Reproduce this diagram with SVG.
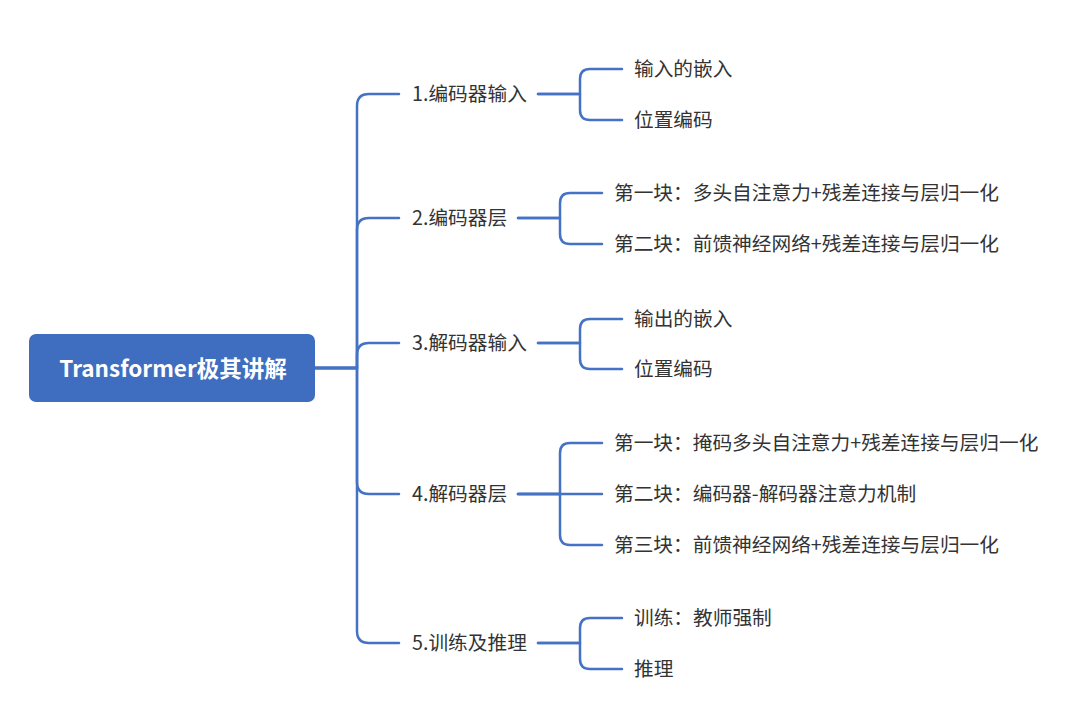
<svg xmlns="http://www.w3.org/2000/svg" width="1082" height="713" viewBox="0 0 1082 713">
<style>
.ln{fill:none;stroke:#4472C4;stroke-width:2.5;stroke-linecap:round;stroke-linejoin:round}
.t{font-family:"Noto Sans CJK SC","Noto Sans",sans-serif;font-size:19.7px;fill:#333333;dominant-baseline:central}
.root{font-family:"Noto Sans CJK SC","Noto Sans",sans-serif;font-size:22.5px;font-weight:bold;fill:#ffffff;dominant-baseline:central;text-anchor:middle}
</style>
<rect width="1082" height="713" fill="#ffffff"/>
<g id="connectors">
<path class="ln" d="M315,368 H357 V106 Q357,94 369,94 H399"/>
<path class="ln" d="M315,368 H357 V230 Q357,218 369,218 H399"/>
<path class="ln" d="M315,368 H357 V355 Q357,343 369,343 H399"/>
<path class="ln" d="M315,368 H357 V482 Q357,494 369,494 H399"/>
<path class="ln" d="M315,368 H357 V631 Q357,643 369,643 H399"/>
<path class="ln" d="M538,94 H580 V79 Q580,69 590,69 H622"/>
<path class="ln" d="M538,94 H580 V110 Q580,120 590,120 H622"/>
<path class="ln" d="M518,218 H560 V203 Q560,193 570,193 H602"/>
<path class="ln" d="M518,218 H560 V234 Q560,244 570,244 H602"/>
<path class="ln" d="M538,343 H580 V329 Q580,319 590,319 H622"/>
<path class="ln" d="M538,343 H580 V359 Q580,369 590,369 H622"/>
<path class="ln" d="M518,494 H560 V453 Q560,443 570,443 H602"/>
<path class="ln" d="M518,494 H602"/>
<path class="ln" d="M518,494 H560 V535 Q560,545 570,545 H602"/>
<path class="ln" d="M538,643 H580 V628 Q580,618 590,618 H622"/>
<path class="ln" d="M538,643 H580 V659 Q580,669 590,669 H622"/>
</g>
<g id="root">
<rect x="29" y="334" width="286" height="68" rx="7" fill="#3F6EC0"/>
<text class="root" x="173" y="367">Transformer极其讲解</text>
</g>
<g id="n1"><text class="t" x="412" y="92">1.编码器输入</text></g>
<g id="n1a"><text class="t" x="634" y="67">输入的嵌入</text></g>
<g id="n1b"><text class="t" x="634" y="118">位置编码</text></g>
<g id="n2"><text class="t" x="412" y="216">2.编码器层</text></g>
<g id="n2a"><text class="t" x="614" y="191">第一块：多头自注意力+残差连接与层归一化</text></g>
<g id="n2b"><text class="t" x="614" y="242">第二块：前馈神经网络+残差连接与层归一化</text></g>
<g id="n3"><text class="t" x="412" y="341">3.解码器输入</text></g>
<g id="n3a"><text class="t" x="634" y="317">输出的嵌入</text></g>
<g id="n3b"><text class="t" x="634" y="367">位置编码</text></g>
<g id="n4"><text class="t" x="412" y="492">4.解码器层</text></g>
<g id="n4a"><text class="t" x="614" y="441">第一块：掩码多头自注意力+残差连接与层归一化</text></g>
<g id="n4b"><text class="t" x="614" y="492">第二块：编码器-解码器注意力机制</text></g>
<g id="n4c"><text class="t" x="614" y="543">第三块：前馈神经网络+残差连接与层归一化</text></g>
<g id="n5"><text class="t" x="412" y="641">5.训练及推理</text></g>
<g id="n5a"><text class="t" x="634" y="616">训练：教师强制</text></g>
<g id="n5b"><text class="t" x="634" y="667">推理</text></g>
</svg>
